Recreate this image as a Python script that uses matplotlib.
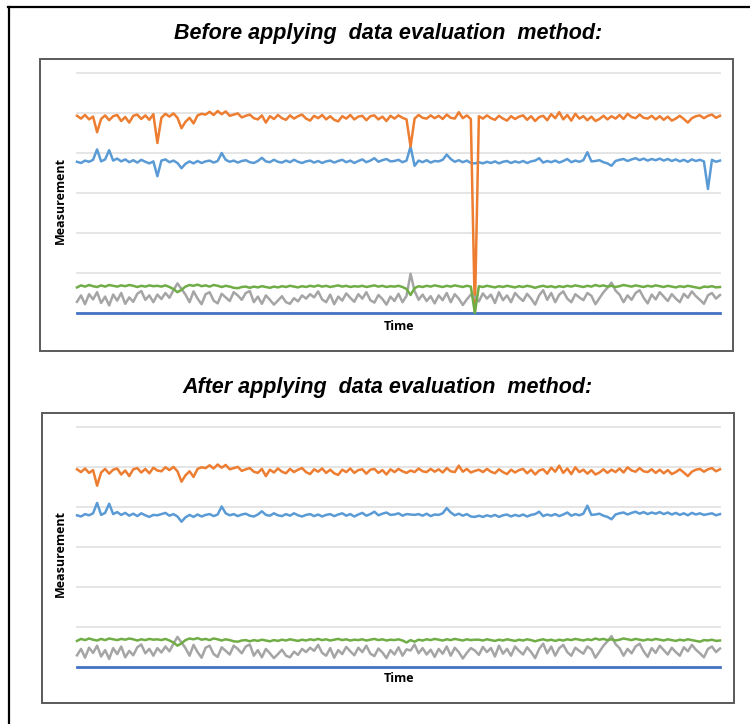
import numpy as np
import matplotlib
matplotlib.use("Agg")
import matplotlib.pyplot as plt
from matplotlib.patches import Rectangle
from matplotlib.lines import Line2D

# ---- sensor readings (one value per time step, in grid units) ----
orange = [
    4.93, 4.86, 4.95, 4.84, 4.91, 4.52, 4.85, 4.94, 4.82, 4.92,
    4.95, 4.80, 4.90, 4.76, 4.93, 4.96, 4.85, 4.94, 4.83, 4.97,
    4.25, 4.88, 4.98, 4.91, 4.99, 4.88, 4.62, 4.78, 4.88, 4.74,
    4.94, 4.98, 4.96, 5.03, 4.95, 5.05, 4.97, 5.04, 4.93, 4.96,
    4.99, 4.89, 4.93, 4.96, 4.87, 4.84, 4.94, 4.76, 4.92, 4.85,
    4.95, 4.87, 4.83, 4.94, 4.86, 4.92, 4.96, 4.86, 4.81, 4.93,
    4.87, 4.95, 4.84, 4.92, 4.83, 4.79, 4.92, 4.86, 4.95, 4.84,
    4.91, 4.93, 4.82, 4.92, 4.94, 4.84, 4.91, 4.80, 4.93, 4.86,
    4.94, 4.88, 4.84, 4.16, 4.86, 4.95, 4.88, 4.86, 4.94, 4.87,
    4.93, 4.85, 4.96, 4.88, 4.86, 5.02, 4.87, 4.94, 4.85, 0.00,
    4.92, 4.86, 4.94, 4.87, 4.83, 4.93, 4.86, 4.81, 4.92, 4.85,
    4.91, 4.94, 4.83, 4.92, 4.80, 4.90, 4.93, 4.82, 4.97, 4.87,
    5.02, 4.84, 4.95, 4.81, 4.98, 4.86, 4.92, 4.82, 4.91, 4.80,
    4.85, 4.93, 4.84, 4.92, 4.86, 4.95, 4.85, 4.98, 4.90, 4.87,
    4.96, 4.88, 4.86, 4.93, 4.84, 4.92, 4.83, 4.91, 4.81, 4.86,
    4.93, 4.85, 4.76, 4.87, 4.92, 4.94, 4.87, 4.93, 4.96, 4.88,
    4.93,
]
blue = [
    3.78, 3.75, 3.81, 3.78, 3.83, 4.09, 3.79, 3.84, 4.07, 3.81,
    3.86, 3.79, 3.84, 3.77, 3.82, 3.76, 3.83, 3.78, 3.74, 3.79,
    3.42, 3.81, 3.84, 3.77, 3.81, 3.75, 3.62, 3.73, 3.79, 3.74,
    3.80, 3.75, 3.79, 3.81, 3.76, 3.80, 4.00, 3.83, 3.78, 3.81,
    3.76, 3.80, 3.82, 3.77, 3.75, 3.80, 3.88, 3.79, 3.77, 3.83,
    3.78, 3.76, 3.81, 3.77, 3.83, 3.78, 3.75, 3.79, 3.81, 3.76,
    3.80, 3.75, 3.79, 3.81, 3.76, 3.80, 3.83, 3.77, 3.81, 3.75,
    3.80, 3.84, 3.77, 3.81, 3.87, 3.78, 3.82, 3.85, 3.79, 3.80,
    3.83, 3.77, 3.81, 4.16, 3.68, 3.81, 3.77, 3.82, 3.76, 3.80,
    3.79, 3.83, 3.96, 3.85, 3.78, 3.82, 3.77, 3.81, 3.75, 3.74,
    3.77, 3.74, 3.78, 3.75, 3.79, 3.74, 3.78, 3.80, 3.75, 3.79,
    3.76, 3.80, 3.75, 3.79, 3.81, 3.87, 3.76, 3.80, 3.77, 3.81,
    3.76, 3.80, 3.85, 3.77, 3.81, 3.78, 3.82, 4.02, 3.79, 3.80,
    3.82, 3.77, 3.74, 3.68, 3.80, 3.83, 3.85, 3.80, 3.84, 3.87,
    3.82, 3.86, 3.81, 3.85, 3.82, 3.86, 3.81, 3.85, 3.80, 3.84,
    3.79, 3.83, 3.78, 3.84, 3.80, 3.83, 3.79, 3.10, 3.83, 3.78,
    3.81,
]
green = [
    0.64, 0.69, 0.66, 0.70, 0.67, 0.65, 0.69, 0.66, 0.70, 0.68,
    0.66, 0.69, 0.67, 0.70, 0.68, 0.65, 0.68, 0.66, 0.69, 0.67,
    0.68, 0.66, 0.69, 0.65, 0.60, 0.52, 0.58, 0.66, 0.70, 0.68,
    0.71, 0.67, 0.69, 0.66, 0.70, 0.68, 0.65, 0.68, 0.66, 0.63,
    0.62, 0.65, 0.66, 0.63, 0.66, 0.64, 0.67, 0.65, 0.63, 0.66,
    0.64, 0.67, 0.65, 0.68, 0.66, 0.64, 0.67, 0.65, 0.68, 0.66,
    0.69, 0.66, 0.68, 0.65, 0.67, 0.69, 0.66, 0.68, 0.65, 0.67,
    0.66, 0.68, 0.65, 0.67, 0.69, 0.66, 0.68, 0.65, 0.67, 0.66,
    0.68, 0.65, 0.60, 0.45, 0.62, 0.67, 0.65, 0.68, 0.66, 0.69,
    0.67, 0.65, 0.68, 0.66, 0.69, 0.67, 0.65, 0.68, 0.66, 0.00,
    0.67, 0.65, 0.68, 0.66, 0.64, 0.67, 0.65, 0.68, 0.66, 0.64,
    0.67, 0.65, 0.68, 0.66, 0.63, 0.66, 0.68, 0.65, 0.67, 0.64,
    0.67, 0.65, 0.68, 0.66, 0.69, 0.67, 0.65, 0.68, 0.66, 0.70,
    0.67, 0.69, 0.66, 0.68, 0.65, 0.67, 0.70, 0.68, 0.66, 0.69,
    0.67, 0.65, 0.68, 0.66, 0.69, 0.67, 0.65, 0.68, 0.66, 0.64,
    0.67, 0.65, 0.68, 0.66, 0.64, 0.62, 0.66, 0.65, 0.67, 0.64,
    0.65,
]
gray = [
    0.28, 0.44, 0.22, 0.47, 0.34, 0.52, 0.25, 0.41, 0.19, 0.46,
    0.31, 0.50, 0.23, 0.39, 0.28, 0.48, 0.55, 0.33, 0.44, 0.27,
    0.46, 0.35, 0.50, 0.38, 0.57, 0.74, 0.60, 0.46, 0.27, 0.54,
    0.36, 0.22, 0.47, 0.52, 0.31, 0.24, 0.48, 0.39, 0.30, 0.52,
    0.44, 0.33, 0.50, 0.55, 0.27, 0.41, 0.23, 0.44, 0.33, 0.21,
    0.31, 0.42, 0.27, 0.23, 0.37, 0.29, 0.44, 0.36, 0.47, 0.39,
    0.54, 0.34, 0.27, 0.46, 0.22, 0.41, 0.31, 0.49, 0.38, 0.28,
    0.47, 0.36, 0.52, 0.32, 0.26, 0.45, 0.35, 0.21, 0.41, 0.30,
    0.48, 0.27, 0.43, 0.98, 0.55, 0.33, 0.46, 0.30, 0.42, 0.24,
    0.44, 0.32, 0.50, 0.27, 0.47, 0.36, 0.20, 0.34, 0.46, 0.40,
    0.29, 0.49, 0.36, 0.46, 0.25, 0.52, 0.32, 0.44, 0.27, 0.50,
    0.39, 0.30, 0.48, 0.36, 0.21, 0.44, 0.57, 0.33, 0.50, 0.27,
    0.46, 0.54, 0.36, 0.27, 0.47, 0.39, 0.32, 0.50, 0.43, 0.22,
    0.37, 0.52, 0.63, 0.76, 0.56, 0.46, 0.27, 0.44, 0.33, 0.50,
    0.57, 0.38, 0.24, 0.46, 0.34, 0.52, 0.41, 0.30, 0.47, 0.36,
    0.27, 0.48, 0.38, 0.54, 0.42, 0.33, 0.23, 0.44, 0.50, 0.36,
    0.45,
]
baseline = [0.0] * len(orange)

# values substituted at flagged time steps by the evaluation method
orange_fixed = {20: 4.90, 83: 4.90, 99: 4.89}
blue_fixed = {20: 3.78, 83: 3.80, 84: 3.79, 157: 3.81}
green_fixed = {83: 0.66, 99: 0.67}
gray_fixed = {83: 0.40}

titles = ["Before applying  data evaluation  method:",
          "After applying  data evaluation  method:"]
x_label = "Time"
y_label = "Measurement"
grid_levels = [1, 2, 3, 4, 5, 6]

C_BLUE = "#5B9BD5"
C_ORANGE = "#ED7D31"
C_GRAY = "#A5A5A5"
C_AXIS = "#4472C4"
C_GREEN = "#70AD47"

W, H = 750, 724
fig = plt.figure(figsize=(W / 100, H / 100), dpi=100)


def fx(px):
    return px / W


def fy(py):
    return 1 - py / H


def cleaned(values, fixes):
    out = list(values)
    for k, v in fixes.items():
        out[k] = v
    return out


# outer frame (top and left edges)
fig.add_artist(Line2D([fx(8), fx(752)], [fy(7), fy(7)], color="black", lw=1.6))
fig.add_artist(Line2D([fx(9), fx(9)], [fy(7), fy(726)], color="black", lw=1.6))

panels = [
    dict(title_y=33, box=(39.5, 59, 733, 350.5), axis_y=313,
         series=(blue, orange, gray, green), time_y=327),
    dict(title_y=387, box=(41.5, 412.5, 734, 703), axis_y=666.5,
         series=(cleaned(blue, blue_fixed), cleaned(orange, orange_fixed),
                 cleaned(gray, gray_fixed), cleaned(green, green_fixed)),
         time_y=679),
]

for p, title in zip(panels, titles):
    x0, y0, x1, y1 = p["box"]
    fig.add_artist(Rectangle((fx(x0), fy(y1)), fx(x1) - fx(x0), fy(y0) - fy(y1),
                             transform=fig.transFigure, fill=False,
                             edgecolor="#5a5a5a", lw=1.4))
    fig.text(fx(388), fy(p["title_y"]), title, ha="center", va="center",
             fontsize=15.5, fontweight="bold", fontstyle="italic",
             family="Liberation Sans")

    ax = fig.add_axes([fx(77), fy(p["axis_y"]), fx(720) - fx(77), 240 / H])
    n = len(orange)
    t = np.arange(n)
    ax.set_xlim(0, n - 1)
    ax.set_ylim(0, 6)
    for lev in grid_levels:
        ax.axhline(lev, color="#E0E0E0", lw=1.2, zorder=0.5, clip_on=False)
    s_blue, s_orange, s_gray, s_green = p["series"]
    kw = dict(lw=1.8, solid_joinstyle="round", clip_on=False)
    ax.plot(t, s_blue, color=C_BLUE, zorder=2, **kw)
    ax.plot(t, s_orange, color=C_ORANGE, zorder=3, **kw)
    ax.plot(t, s_gray, color=C_GRAY, zorder=4, **kw)
    ax.plot(t, baseline, color=C_AXIS, lw=2.0, zorder=5, clip_on=False)
    ax.plot(t, s_green, color=C_GREEN, zorder=6, **kw)
    ax.axis("off")

    fig.text(fx(399), fy(p["time_y"]), x_label, ha="center", va="center",
             fontsize=9, fontweight="bold", family="Open Sans")
    fig.text(fx(60), fy(p["axis_y"] - 113), y_label, ha="center", va="center",
             rotation=90, fontsize=9, fontweight="bold", family="Open Sans")

fig.savefig("out.png", dpi=100, facecolor="white")
